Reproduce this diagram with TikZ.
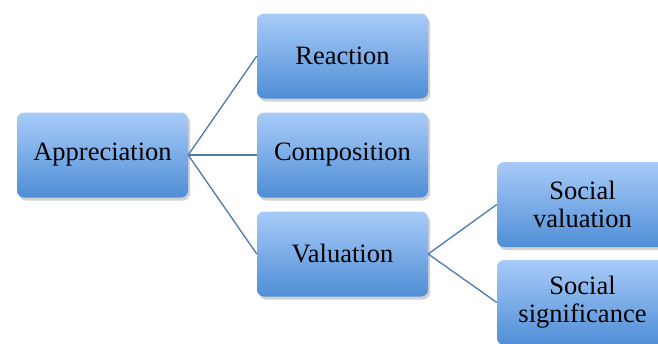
\documentclass[tikz,border=0pt]{standalone}
\usepackage{fontspec}
\setmainfont{Liberation Serif}
\usetikzlibrary{shadows}
\definecolor{boxtop}{HTML}{A8CBF8}
\definecolor{boxbot}{HTML}{4F8ED6}
\definecolor{linkc}{HTML}{4A7AB0}
\tikzset{
  box/.style={rounded corners=7pt, minimum width=171pt, minimum height=85pt,
    top color=boxtop, bottom color=boxbot, draw=none, align=center,
    font=\rmfamily\fontsize{26.5}{28}\selectfont, inner sep=0pt,
    drop shadow={shadow xshift=2pt, shadow yshift=-3pt, opacity=0.3, fill=black!60}},
  link/.style={draw=linkc, line width=1.3pt}
}
\begin{document}
\begin{tikzpicture}[x=1pt,y=-1pt]
\useasboundingbox (0,0) rectangle (658,343);
\clip (0,0) rectangle (658,343);
\node[box] (app) at (102.5,155) {Appreciation};
\node[box] (rea) at (342.5,56) {Reaction};
\node[box] (com) at (342.5,155) {Composition};
\node[box] (val) at (342.5,254) {Valuation};
\node[box] (sv) at (582.5,204.5) {Social\\valuation};
\node[box] (ss) at (582.5,302.5) {Social\\significance};
\draw[link] (app.east) -- (rea.west);
\draw[link] (app.east) -- (com.west);
\draw[link] (app.east) -- (val.west);
\draw[link] (val.east) -- (sv.west);
\draw[link] (val.east) -- (ss.west);
\end{tikzpicture}
\end{document}
